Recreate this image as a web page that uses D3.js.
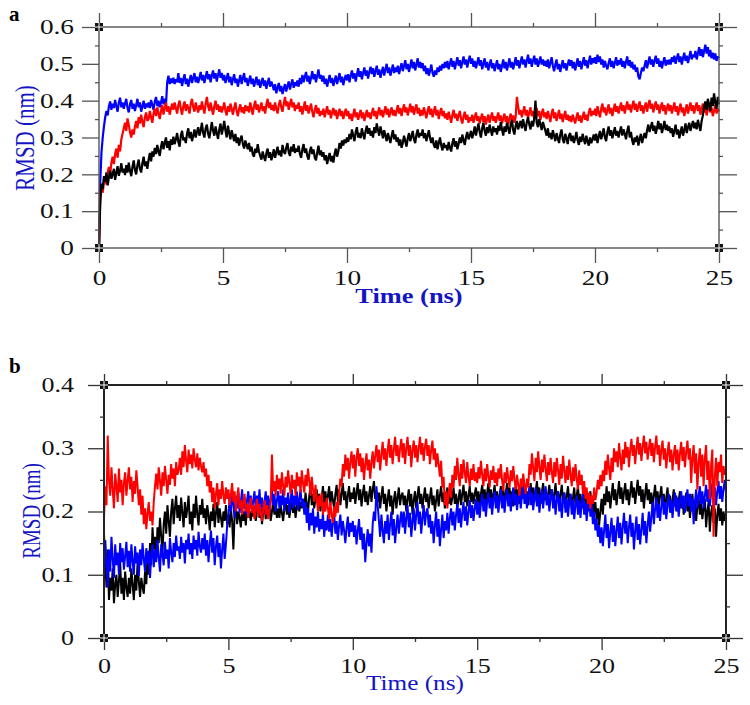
<!DOCTYPE html>
<html><head><meta charset="utf-8">
<script src="https://cdn.jsdelivr.net/npm/d3@7"></script>
<style>
body{margin:0;background:#fff}
svg text{font-family:"Liberation Serif","Times New Roman",Times,serif}
</style>
</head><body>
<svg id="c" width="750" height="705"></svg>
<script>
// ---------------- DATA ----------------
// RMSD values in 0.001 nm; each row covers one ns (samples evenly spaced in that ns); last row = t 25 ns
const unit = 0.001;
const xTicks = [0, 5, 10, 15, 20, 25];
const xMinorTicks = [2.5, 7.5, 12.5, 17.5, 22.5];
const yTicksA = [0, 0.1, 0.2, 0.3, 0.4, 0.5, 0.6];
const yMinorA = [0.05, 0.15, 0.25, 0.35, 0.45, 0.55];
const yTicksB = [0, 0.1, 0.2, 0.3, 0.4];
const yMinorB = [0.05, 0.15, 0.25, 0.35];

// Panel a
const aBlack = [
[0,120,175,160,195,180,205,170,192,210,188,200,215,185,205,222,196,210,230,205],
[215,198,225,205,232,210,195,220,238,212,200,225,240,215,205,230,248,222,235,215],
[240,258,235,262,248,272,255,280,262,250,275,290,268,285,300,272,290,265,295,280],
[302,282,295,312,288,275,305,318,292,300,285,310,325,298,315,290,305,322,300,315],
[328,305,318,340,312,300,325,335,310,298,320,342,318,305,330,312,296,322,338,308],
[325,345,318,300,332,312,295,320,305,290,310,285,300,278,295,305,282,270,292,280],
[268,285,262,275,255,248,270,258,282,262,250,240,262,248,236,258,270,245,260,238],
[252,268,245,260,275,252,265,248,280,262,255,272,285,260,250,275,262,282,258,270],
[262,278,255,245,268,282,258,270,250,240,262,275,255,268,245,238,260,278,252,265],
[248,260,238,252,228,245,258,235,250,232,255,270,248,262,285,270,292,278,295,285],
[300,288,310,295,322,305,290,315,328,300,312,298,325,308,295,318,332,310,325,305],
[318,300,328,312,338,320,305,330,315,298,320,305,290,312,298,285,305,320,295,308],
[288,300,278,295,272,285,305,290,275,298,312,290,302,318,295,285,308,322,300,312],
[305,322,298,312,290,305,320,298,285,300,280,272,292,268,285,300,278,265,285,272],
[280,265,288,272,262,285,298,275,290,268,282,300,285,308,292,280,302,315,295,305],
[318,298,312,330,305,322,338,315,300,325,340,318,305,328,312,335,320,305,330,315],
[325,308,332,318,342,322,305,330,315,340,325,310,335,348,320,308,332,345,322,335],
[345,325,350,332,318,342,355,335,322,345,330,352,400,340,328,350,335,320,342,330],
[318,305,325,300,312,295,320,305,290,312,298,285,308,322,295,285,310,298,282,305],
[312,290,305,285,298,315,292,280,302,288,310,295,282,305,290,278,300,285,295,308],
[292,310,285,302,318,295,308,325,300,290,315,330,305,320,298,312,328,305,318,300],
[315,330,305,322,310,295,318,332,300,315,292,280,300,288,305,278,295,310,285,300],
[312,298,320,335,315,328,342,318,332,310,325,345,322,338,312,328,345,320,335,318],
[330,312,325,302,318,335,308,322,298,315,330,305,320,338,312,328,340,318,332,345],
[325,340,322,348,332,318,345,360,385,398,375,405,390,372,408,385,420,395,378,410],
[390]];
const aRed = [
[0,140,165,150,180,195,172,205,220,200,232,248,228,255,270,245,280,262,295,310],
[325,340,318,352,335,315,300,322,308,330,345,325,355,338,362,342,328,355,368,345],
[350,372,355,340,365,378,358,382,365,350,372,388,362,380,395,370,385,362,378,392],
[375,395,380,365,388,400,378,362,385,398,372,390,380,365,392,405,382,370,395,380],
[368,388,375,398,380,365,392,410,385,372,395,378,362,385,400,375,390,370,385,368],
[380,395,372,360,385,370,392,378,362,380,395,372,358,378,390,368,382,365,388,372],
[385,368,395,378,362,385,400,375,390,368,380,395,372,385,365,390,405,380,395,375],
[388,372,395,378,365,388,402,382,370,392,410,385,398,375,390,405,382,395,372,388],
[378,395,370,385,362,380,398,372,388,365,378,392,370,355,375,388,365,380,358,372],
[362,378,355,370,385,362,375,352,368,380,360,375,350,365,378,358,372,350,365,378],
[358,372,350,365,345,362,378,355,368,348,362,375,352,368,345,360,375,355,368,350],
[365,380,358,372,350,368,382,360,375,355,370,385,362,378,355,370,382,360,375,358],
[372,388,365,380,358,375,390,368,382,360,375,392,368,385,362,378,390,365,380,358],
[375,360,382,368,352,372,385,362,378,355,370,385,360,375,350,368,380,358,372,352],
[365,348,370,355,340,362,375,352,365,345,360,372,350,338,358,370,348,362,340,355],
[345,362,340,355,368,345,358,338,352,365,342,358,335,350,362,340,355,368,345,358],
[340,355,368,345,360,338,352,365,342,358,335,350,365,345,360,340,355,410,385,362],
[375,355,370,385,360,375,352,368,382,358,372,350,365,380,358,372,348,365,378,355],
[368,350,372,358,342,365,378,352,368,345,360,375,350,365,342,358,372,348,362,345],
[358,342,362,350,338,355,368,345,360,340,355,370,348,362,345,368,380,358,372,362],
[378,358,385,368,355,378,392,368,382,360,375,390,365,380,358,375,392,370,385,365],
[380,395,372,388,365,382,398,375,390,368,385,400,375,392,370,385,398,372,388,365],
[382,395,370,388,402,378,392,368,385,398,375,390,365,382,395,372,388,362,380,392],
[372,388,365,380,395,370,385,360,378,392,368,382,358,375,390,365,380,395,372,388],
[365,382,395,372,388,362,378,392,368,385,360,375,390,368,382,358,372,388,365,378],
[370]];
const aBlue = [
[0,180,260,300,330,355,372,360,385,398,375,392,380,402,385,370,395,408,382,395],
[378,392,405,380,368,390,402,378,392,372,388,405,382,395,370,385,400,378,392,382],
[395,380,402,388,375,398,410,385,400,382,395,412,390,405,388,450,468,445,460,448],
[462,445,458,450,475,448,462,440,458,472,445,460,438,455,470,448,462,475,450,465],
[448,462,478,455,470,448,465,480,458,472,450,468,482,460,475,452,470,485,462,475],
[455,470,448,462,475,450,465,442,458,472,448,460,438,455,470,445,460,475,450,462],
[440,455,468,445,460,438,452,465,442,458,435,450,462,440,455,432,448,462,438,452],
[442,428,445,420,435,448,425,440,418,432,445,425,440,452,430,445,458,435,450,440],
[455,438,462,445,470,450,465,478,452,468,445,462,480,458,472,450,468,485,460,470],
[452,468,445,460,438,455,470,448,462,440,455,468,445,460,475,450,465,442,458,470],
[455,472,450,468,482,460,475,452,470,488,465,480,458,475,490,468,482,460,478,492],
[472,488,465,480,495,470,485,462,478,492,468,485,500,475,490,468,482,498,475,490],
[478,495,472,488,502,480,495,510,485,500,478,495,512,488,505,482,498,515,490,505],
[488,502,480,495,472,488,468,482,498,475,465,482,470,490,478,495,482,500,488,505],
[490,508,485,500,515,492,508,485,502,518,495,510,488,505,520,498,512,490,508,522],
[500,515,492,508,488,502,518,495,510,485,500,515,490,505,482,498,512,488,502,480],
[495,510,485,500,478,495,512,488,505,482,498,515,490,505,485,500,518,495,510,488],
[505,520,498,512,490,508,525,500,515,492,508,522,498,515,492,505,520,498,512,495],
[508,492,512,488,502,518,495,480,498,512,485,500,478,495,510,488,502,482,498,512],
[495,510,488,505,482,498,515,492,508,485,502,518,495,510,488,505,522,498,515,502],
[518,500,525,505,520,498,512,490,508,495,485,502,515,492,508,488,502,518,495,510],
[498,515,492,508,488,505,520,495,510,490,505,485,498,478,490,465,458,475,490,480],
[495,510,488,505,520,498,512,492,508,522,500,515,492,508,488,505,518,495,510,498],
[512,498,518,505,522,500,515,528,505,520,498,515,530,508,522,502,518,535,512,525],
[518,535,512,528,545,522,540,518,535,552,528,545,520,538,515,530,512,528,508,520],
[515]];

// Panel b
const bBlack = [
[165,120,80,140,60,95,75,110,55,85,100,65,90,120,70,95,60,105,80,65],
[95,70,110,85,60,100,75,120,90,65,95,80,70,105,85,130,100,150,115,175],
[140,160,125,175,150,190,160,135,180,200,165,210,185,160,200,220,180,205,225,190],
[210,185,222,198,175,215,190,205,225,180,200,170,212,190,225,195,178,210,195,220],
[190,205,180,210,195,170,200,185,212,175,198,215,182,205,190,175,200,185,210,180],
[195,175,205,185,140,195,210,180,200,190,175,205,185,200,178,210,190,200,185,205],
[192,208,185,200,215,190,205,180,198,212,188,205,195,210,185,200,215,195,208,190],
[205,190,210,198,185,205,218,195,210,190,205,215,198,212,190,208,220,200,215,205],
[220,205,230,212,198,225,238,210,228,205,220,235,212,228,200,222,240,215,232,210],
[225,240,210,232,218,205,228,242,215,235,210,228,245,218,232,205,225,240,215,230],
[220,238,212,230,245,218,235,208,228,242,215,232,210,225,240,215,235,248,220,232],
[215,230,205,225,240,212,228,200,220,235,208,225,195,218,232,205,222,238,210,225],
[230,210,225,200,220,235,208,228,195,218,232,205,225,240,212,228,205,222,238,215],
[228,205,222,238,210,225,200,218,235,208,225,240,215,230,205,222,238,212,228,210],
[222,238,212,228,205,220,235,210,228,242,215,232,208,225,240,215,230,212,228,238],
[215,232,210,228,242,218,235,212,230,245,220,235,210,228,242,215,232,208,225,240],
[218,235,212,230,245,220,238,215,232,208,225,242,218,235,212,228,245,220,236,215],
[232,210,228,245,220,238,215,232,248,222,238,212,230,245,218,235,210,228,242,220],
[235,212,228,245,218,232,210,228,242,215,230,205,225,240,212,228,205,222,238,210],
[225,240,212,228,205,222,238,210,225,200,218,232,205,222,198,215,188,205,178,200],
[220,195,228,210,240,215,232,205,225,245,218,235,210,228,248,220,238,212,230,245],
[218,235,210,230,248,222,238,212,232,250,225,240,215,235,205,228,245,218,235,212],
[230,205,225,242,215,232,208,225,240,212,228,200,222,238,210,225,198,218,235,208],
[225,200,218,232,205,222,195,215,230,200,218,190,210,228,198,215,185,208,222,195],
[212,188,205,220,175,200,215,168,198,210,182,205,160,195,212,185,205,178,200,185],
[195]];
const bRed = [
[190,240,210,320,250,225,270,235,205,260,240,215,268,230,250,210,245,262,225,248],
[270,235,255,215,248,228,265,240,210,235,195,225,180,205,172,198,215,185,200,178],
[215,240,260,235,270,248,225,262,240,272,250,228,258,242,275,252,268,240,278,258],
[265,285,258,295,270,305,280,262,298,275,290,268,300,282,270,292,265,285,272,262],
[278,255,268,240,258,230,248,215,238,205,228,245,210,235,220,248,225,212,238,220],
[235,210,228,245,215,232,200,222,238,205,218,195,215,228,200,212,190,208,222,198],
[210,188,205,220,192,212,198,185,205,218,195,210,188,200,215,290,232,248,225,258],
[235,252,228,262,240,225,255,238,265,245,228,258,236,250,225,262,240,255,230,265],
[245,230,258,240,268,248,225,255,235,215,242,222,200,225,208,230,195,215,200,222],
[205,188,215,195,182,208,192,215,198,230,252,240,275,255,290,265,285,252,278,295],
[268,290,255,285,300,272,292,262,285,250,275,292,265,282,252,278,295,268,288,305],
[278,298,265,290,310,282,300,272,295,315,285,305,275,298,318,288,305,278,300,315],
[285,308,275,300,318,288,305,270,298,312,285,305,278,300,318,290,308,280,302,315],
[288,305,275,298,312,282,300,270,292,275,255,280,238,255,210,232,205,228,245,222],
[258,238,272,250,285,258,240,275,252,282,262,245,278,255,240,268,250,275,248,262],
[245,270,252,280,258,240,268,248,275,255,238,265,250,272,245,262,240,268,252,275],
[250,232,262,245,270,252,238,265,248,272,250,235,258,242,225,252,238,260,242,228],
[252,238,275,258,292,268,248,285,262,295,270,250,282,262,290,268,248,278,258,285],
[262,245,278,255,285,265,242,275,252,288,265,245,272,250,282,258,240,270,248,275],
[252,235,265,242,258,228,248,220,238,212,230,205,225,212,238,218,230,250,235,258],
[240,265,248,280,258,290,268,250,285,262,300,278,295,270,308,285,265,298,275,310],
[285,302,270,298,315,288,305,275,300,318,290,308,280,302,320,292,310,282,300,315],
[288,308,278,302,320,290,305,272,298,312,282,300,268,292,310,278,298,265,290,305],
[275,298,265,292,310,280,302,270,295,312,282,300,245,285,305,260,292,235,278,300],
[255,290,240,285,305,250,280,220,272,298,160,255,285,240,278,262,290,245,272,258],
[265]];
const bBlue = [
[90,155,120,80,140,105,160,125,95,148,115,135,100,150,120,142,108,130,152,112],
[138,105,148,122,100,145,118,135,98,140,115,150,125,105,142,118,138,95,130,148],
[112,140,120,155,128,105,148,132,115,152,125,140,110,158,135,120,150,128,162,138],
[145,125,160,135,150,118,155,140,165,132,150,125,162,140,155,130,168,145,135,158],
[140,165,130,155,120,148,170,135,158,115,145,162,128,150,110,140,165,125,148,178],
[195,220,200,232,210,190,225,205,230,198,215,235,205,222,195,218,232,205,225,200],
[218,232,200,225,210,235,205,222,195,215,232,208,225,198,220,235,210,228,200,218],
[232,205,225,210,235,200,222,212,230,198,218,235,205,225,210,232,202,220,235,208],
[220,195,215,182,205,170,198,178,205,165,192,175,200,168,188,172,198,160,185,170],
[195,168,188,160,182,198,165,185,155,178,195,162,185,170,150,175,192,160,182,168],
[185,160,178,148,170,188,155,175,140,165,120,150,172,145,165,135,180,200,185,240],
[210,185,160,195,170,150,185,165,195,155,180,200,162,188,150,175,195,165,185,200],
[175,200,165,190,210,175,198,160,185,205,170,195,215,180,200,165,190,210,178,198],
[205,175,195,165,185,150,178,200,160,188,145,172,195,158,185,170,198,165,190,205],
[178,200,170,195,212,182,205,175,198,215,185,208,178,200,218,190,210,185,205,220],
[195,215,190,212,228,200,220,192,215,230,205,222,195,218,232,205,225,198,218,235],
[205,225,198,220,235,208,228,200,222,238,210,228,202,222,235,205,225,245,212,230],
[205,225,240,210,230,202,222,238,208,228,198,220,235,205,225,240,210,228,200,222],
[235,205,225,195,218,232,200,222,190,215,230,198,220,192,215,228,195,218,188,210],
[225,195,218,190,212,228,195,215,185,210,222,192,212,180,200,170,188,160,178,150],
[175,145,170,195,158,180,142,168,190,152,178,145,170,192,158,182,148,175,198,165],
[185,150,175,195,160,182,140,170,192,155,180,148,172,198,162,185,150,178,200,168],
[192,215,180,205,222,190,212,185,208,225,195,215,188,210,228,198,218,190,212,230],
[200,222,192,215,232,205,225,198,218,235,208,228,200,222,180,215,235,205,225,240],
[212,232,205,225,242,215,235,208,228,245,218,238,210,232,248,220,240,215,235,250],
[230]];

// ---------------- DRAWING ----------------
const svg = d3.select("#c");
const TXT = "#1414c4";
const SERIF = '"Liberation Serif","Times New Roman",Times,serif';

// rows -> [{t, v}] (each row spans one ns)
function toPoints(rows) {
  const pts = [];
  rows.forEach((row, r) => row.forEach((v, j) => pts.push({t: r + j / row.length, v: v * unit})));
  return pts;
}

function panel(cfg) {
  const g = svg.append("g");
  const x = d3.scaleLinear().domain([0, 25]).range([cfg.left, cfg.right]);
  const y = d3.scaleLinear().domain([0, cfg.ymax]).range([cfg.bottom, cfg.top]);

  const line = d3.line().x(d => x(d.t)).y(d => y(d.v));
  cfg.series.forEach(s => {
    g.append("path").datum(toPoints(s.values))
      .attr("fill", "none").attr("stroke", s.color)
      .attr("stroke-width", cfg.lineW).attr("stroke-linejoin", "miter").attr("stroke-miterlimit", 2)
      .attr("d", line);
  });

  g.append("rect").attr("x", cfg.left).attr("y", cfg.top)
    .attr("width", cfg.right - cfg.left).attr("height", cfg.bottom - cfg.top)
    .attr("fill", "none").attr("stroke", cfg.frameColor).attr("stroke-width", cfg.frameW);

  const fmtY = d => d === 0 ? "0" : d3.format(".1f")(d);
  const axes = [
    [d3.axisBottom(x).tickValues(xTicks).tickSize(cfg.tb).tickPadding(cfg.xpad).tickFormat(d3.format("d")), `translate(0,${cfg.bottom})`, "xb"],
    [d3.axisBottom(x).tickValues(xMinorTicks).tickSize(4).tickFormat(""), `translate(0,${cfg.bottom})`],
    [d3.axisTop(x).tickValues(xTicks).tickSize(cfg.tt).tickFormat(""), `translate(0,${cfg.top})`],
    [d3.axisTop(x).tickValues(xMinorTicks).tickSize(4).tickFormat(""), `translate(0,${cfg.top})`],
    [d3.axisLeft(y).tickValues(cfg.yTicks).tickSize(cfg.tl).tickPadding(cfg.ypad).tickFormat(fmtY), `translate(${cfg.left},0)`, "yl"],
    [d3.axisLeft(y).tickValues(cfg.yMinor).tickSize(4).tickFormat(""), `translate(${cfg.left},0)`],
    [d3.axisRight(y).tickValues(cfg.yTicks).tickSize(cfg.tr).tickFormat(""), `translate(${cfg.right},0)`],
    [d3.axisRight(y).tickValues(cfg.yMinor).tickSize(4).tickFormat(""), `translate(${cfg.right},0)`]
  ];
  axes.forEach(([ax, tr, kind]) => {
    const a = g.append("g").attr("transform", tr).call(ax);
    a.attr("font-family", SERIF);
    a.select(".domain").remove();
    a.selectAll("line").attr("stroke", cfg.tickColor).attr("stroke-width", 1.3);
    a.selectAll("text").attr("fill", "#111").attr("font-size", cfg.tickFont)
      .attr("font-family", SERIF)
      .style("transform-box", "fill-box")
      .style("transform-origin", kind === "yl" ? "100% 50%" : "50% 50%")
      .style("transform", "scaleX(1.3)");
  });

  [[0, 0], [25, 0], [0, cfg.ymax], [25, cfg.ymax]].forEach(([cx, cy]) => {
    const px = x(cx), py = y(cy);
    g.append("rect").attr("x", px - 4).attr("y", py - 4).attr("width", 8).attr("height", 8).attr("fill", "#111");
    g.append("line").attr("x1", px - 4).attr("x2", px + 4).attr("y1", py).attr("y2", py).attr("stroke", "#fff").attr("stroke-width", 1);
    g.append("line").attr("x1", px).attr("x2", px).attr("y1", py - 4).attr("y2", py + 4).attr("stroke", "#fff").attr("stroke-width", 1);
  });

  g.append("text").attr("x", (cfg.left + cfg.right) / 2).attr("y", cfg.xTitleY)
    .attr("text-anchor", "middle").attr("fill", TXT).attr("font-size", cfg.titleFont)
    .attr("font-family", SERIF)
    .attr("font-weight", cfg.xTitleBold ? "bold" : "normal")
    .style("transform-box", "fill-box").style("transform-origin", "50% 50%").style("transform", "scaleX(1.2)")
    .text("Time (ns)");
  g.append("text")
    .attr("transform", `translate(${cfg.yTitleX},${cfg.yTitleY}) scale(1.3,1) rotate(-90)`)
    .attr("text-anchor", "middle").attr("dy", "0.35em").attr("fill", TXT).attr("font-size", cfg.yTitleFont)
    .attr("font-family", SERIF)
    .text("RMSD (nm)");

  g.append("text").attr("x", cfg.letterX).attr("y", cfg.letterY)
    .attr("font-family", '"Liberation Sans",Arial,sans-serif').attr("font-weight", "bold")
    .attr("font-size", 21).attr("fill", "#000").text(cfg.letter);
}

panel({
  left: 99, right: 719, top: 27, bottom: 248, ymax: 0.6,
  yTicks: yTicksA, yMinor: yMinorA,
  tb: 15, tt: 14, tl: 17, tr: 18, xpad: 7, ypad: 8,
  frameColor: "#555", frameW: 1.4, tickColor: "#555",
  tickFont: 21, titleFont: 22, xTitleBold: true, xTitleY: 303,
  yTitleX: 24, yTitleY: 138, yTitleFont: 21,
  lineW: 2.2,
  letter: "a", letterX: 9, letterY: 21,
  series: [{values: aBlue, color: "#0000ff"}, {values: aRed, color: "#ff0000"}, {values: aBlack, color: "#000000"}]
});

panel({
  left: 104, right: 726, top: 385, bottom: 638, ymax: 0.4,
  yTicks: yTicksB, yMinor: yMinorB,
  tb: 12, tt: 11, tl: 16, tr: 17, xpad: 9, ypad: 14,
  frameColor: "#222", frameW: 2, tickColor: "#333",
  tickFont: 20, titleFont: 21, xTitleBold: false, xTitleY: 690,
  yTitleX: 31, yTitleY: 511, yTitleFont: 19,
  lineW: 2.0,
  letter: "b", letterX: 9, letterY: 373,
  series: [{values: bBlack, color: "#000000"}, {values: bBlue, color: "#0000ff"}, {values: bRed, color: "#ff0000"}]
});
</script>
</body></html>
